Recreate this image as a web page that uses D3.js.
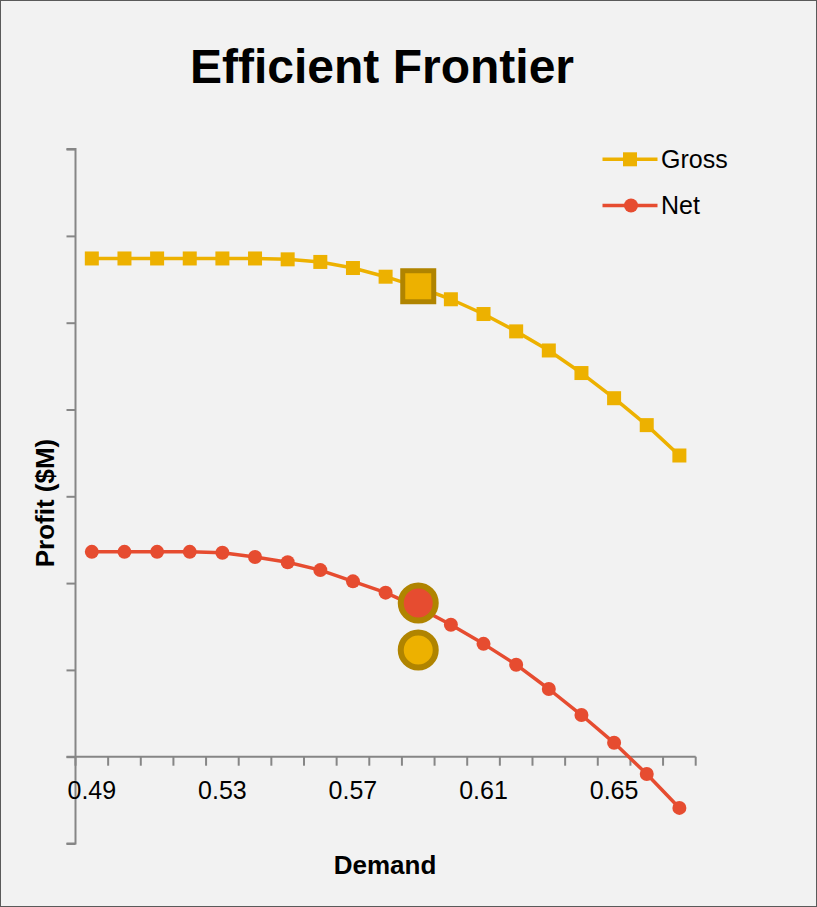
<!DOCTYPE html>
<html>
<head>
<meta charset="utf-8">
<script src="https://cdn.jsdelivr.net/npm/d3@7"></script>
<style>
  html, body { margin: 0; padding: 0; background: #F2F2F2; }
  svg { display: block; font-family: "Liberation Sans", Arial, sans-serif; }
</style>
</head>
<body>
<script>
// ---- Data ----
const demand = ["0.49","0.50","0.51","0.52","0.53","0.54","0.55","0.56","0.57","0.58",
                "0.59","0.60","0.61","0.62","0.63","0.64","0.65","0.66","0.67"];
const gross = [57.4, 57.4, 57.4, 57.4, 57.4, 57.4, 57.3, 57.0, 56.3, 55.3,
               54.1, 52.7, 51.0, 49.0, 46.8, 44.2, 41.3, 38.2, 34.7];
const net = [23.6, 23.6, 23.6, 23.6, 23.5, 23.0, 22.4, 21.5, 20.2, 18.9,
             17.2, 15.2, 13.0, 10.6, 7.8, 4.8, 1.6, -2.0, -5.9];
const xTickLabels = ["0.49", "0.53", "0.57", "0.61", "0.65"];
const yTicks = [-10, 0, 10, 20, 30, 40, 50, 60, 70];
// selected points at demand 0.59
const selGross = [{d: "0.59", v: 54.2}];
const selNet = [{d: "0.59", v: 17.7, kind: "net"}, {d: "0.59", v: 12.3, kind: "gross"}];

const W = 817, H = 907;
const cGross = "#EDB100", cNet = "#E64C30", cSel = "#B08400", cAxis = "#868686";

const svg = d3.select("body").append("svg").attr("width", W).attr("height", H);
svg.append("rect").attr("x", 0.5).attr("y", 0.5).attr("width", W - 1).attr("height", H - 1)
  .attr("fill", "#F2F2F2").attr("stroke", "#5a5a5a").attr("stroke-width", 1);

const x = d3.scaleBand().domain(demand).range([75.5, 695.7]).paddingInner(0).paddingOuter(0);
const y = d3.scaleLinear().domain([-10, 70]).range([843.5, 149.1]);
const cx = d => x(d) + x.bandwidth() / 2;

// Title
svg.append("text").attr("x", 382).attr("y", 83).attr("text-anchor", "middle")
  .attr("font-size", 48).attr("font-weight", "bold").attr("fill", "#000")
  .text("Efficient Frontier");

// Y axis (no labels)
const yAxis = d3.axisLeft(y).tickValues(yTicks).tickSize(9).tickFormat("");
const gy = svg.append("g").attr("transform", `translate(${x.range()[0]},0)`).call(yAxis);
gy.select(".domain").attr("stroke", cAxis).attr("stroke-width", 2).attr("d", `M-9,${y(-10)}H0V${y(70)}H-9`);
gy.selectAll(".tick line").attr("stroke", cAxis).attr("stroke-width", 2);

// X axis at zero
const xAxisG = svg.append("g").attr("transform", `translate(0,${y(0)})`);
const xEdges = demand.map(d => x(d)).concat([x.range()[1]]);
xAxisG.append("line").attr("x1", x.range()[0] - 9).attr("x2", x.range()[1])
  .attr("y1", 0).attr("y2", 0).attr("stroke", cAxis).attr("stroke-width", 2);
xAxisG.selectAll("line.tk").data(xEdges).enter().append("line").attr("class", "tk")
  .attr("x1", d => d).attr("x2", d => d).attr("y1", 0).attr("y2", 9)
  .attr("stroke", cAxis).attr("stroke-width", 2);
xAxisG.selectAll("text.lbl").data(xTickLabels).enter().append("text").attr("class", "lbl")
  .attr("x", d => cx(d)).attr("y", 42).attr("text-anchor", "middle")
  .attr("font-size", 25).attr("fill", "#000").text(d => d);

// Axis titles
svg.append("text").attr("x", 385).attr("y", 874).attr("text-anchor", "middle")
  .attr("font-size", 26).attr("font-weight", "bold").text("Demand");
svg.append("text").attr("transform", "translate(54,503) rotate(-90)").attr("text-anchor", "middle")
  .attr("font-size", 26).attr("font-weight", "bold").text("Profit ($M)");

const line = d3.line().x((d, i) => cx(demand[i])).y(d => y(d));

// Gross series
svg.append("path").datum(gross).attr("d", line).attr("fill", "none")
  .attr("stroke", cGross).attr("stroke-width", 3.5).attr("stroke-linejoin", "round");
svg.selectAll("rect.g").data(gross).enter().append("rect").attr("class", "g")
  .attr("x", (d, i) => cx(demand[i]) - 7).attr("y", d => y(d) - 7)
  .attr("width", 14).attr("height", 14).attr("fill", cGross);

// Net series
svg.append("path").datum(net).attr("d", line).attr("fill", "none")
  .attr("stroke", cNet).attr("stroke-width", 3.5).attr("stroke-linejoin", "round");
svg.selectAll("circle.n").data(net).enter().append("circle").attr("class", "n")
  .attr("cx", (d, i) => cx(demand[i])).attr("cy", d => y(d)).attr("r", 7).attr("fill", cNet);

// Selected points
svg.selectAll("rect.sel").data(selGross).enter().append("rect").attr("class", "sel")
  .attr("x", d => cx(d.d) - 15.5).attr("y", d => y(d.v) - 15.5)
  .attr("width", 31).attr("height", 31).attr("fill", cGross)
  .attr("stroke", cSel).attr("stroke-width", 5);
svg.selectAll("circle.sel").data(selNet).enter().append("circle").attr("class", "sel")
  .attr("cx", d => cx(d.d)).attr("cy", d => y(d.v)).attr("r", 17.5)
  .attr("fill", d => d.kind === "net" ? cNet : cGross)
  .attr("stroke", cSel).attr("stroke-width", 6);

// Legend
const legend = [{name: "Gross", color: cGross, shape: "square", y: 159.3},
                {name: "Net", color: cNet, shape: "circle", y: 205.5}];
const lg = svg.append("g");
legend.forEach(l => {
  lg.append("line").attr("x1", 602.5).attr("x2", 657.5).attr("y1", l.y).attr("y2", l.y)
    .attr("stroke", l.color).attr("stroke-width", 3.5);
  if (l.shape === "square") {
    lg.append("rect").attr("x", 623).attr("y", l.y - 7).attr("width", 14).attr("height", 14).attr("fill", l.color);
  } else {
    lg.append("circle").attr("cx", 631).attr("cy", l.y).attr("r", 7).attr("fill", l.color);
  }
  lg.append("text").attr("x", 661).attr("y", l.y + 8.5).attr("font-size", 25).attr("fill", "#000").text(l.name);
});
</script>
</body>
</html>
